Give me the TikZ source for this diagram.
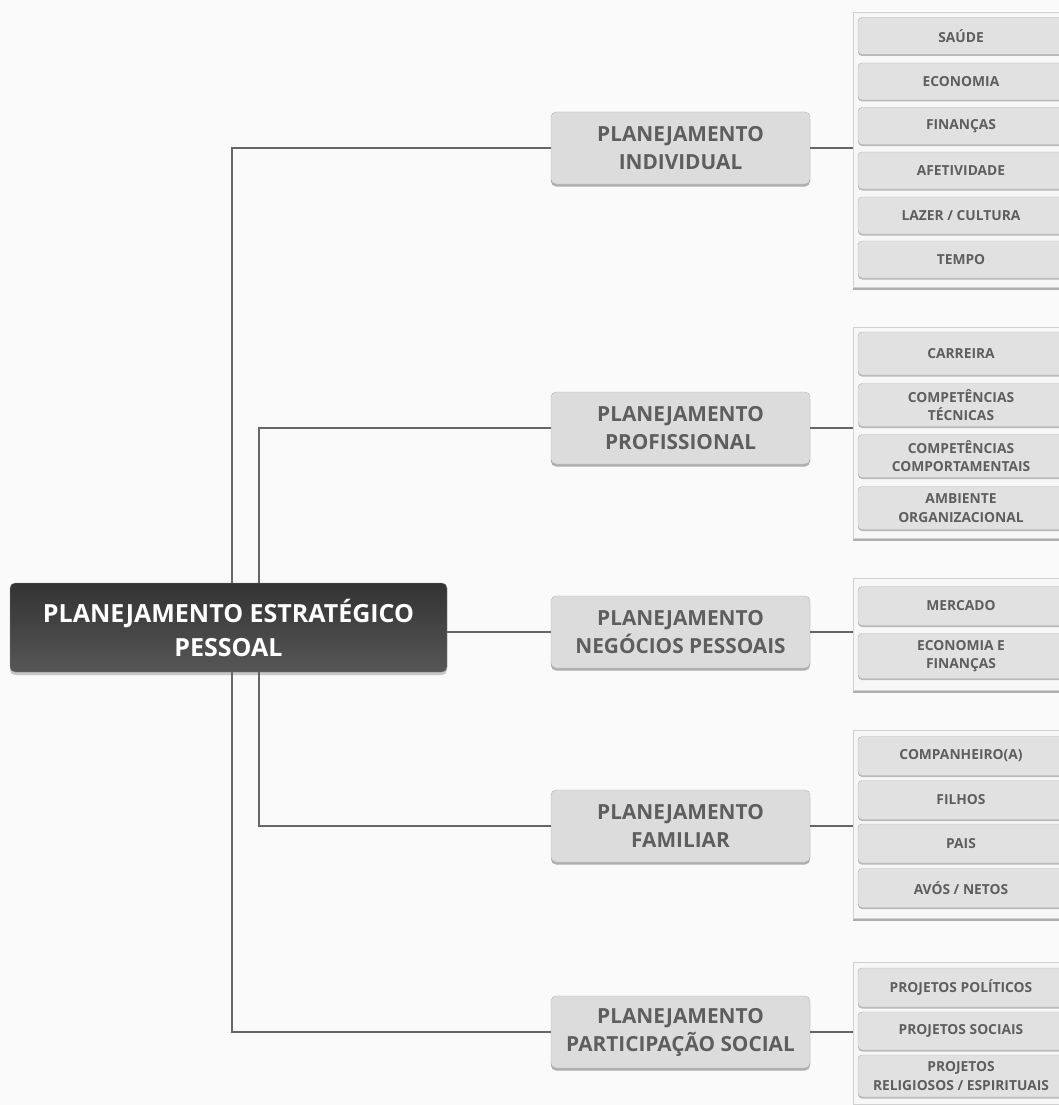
\documentclass[tikz,border=0pt]{standalone}
\usepackage{fontspec}
\setmainfont{Open Sans}
\usetikzlibrary{shadows}
\definecolor{linegray}{HTML}{666666}
\definecolor{boxfill}{HTML}{DCDCDC}
\definecolor{boxedge}{HTML}{B4B4B4}
\definecolor{txtgray}{HTML}{5E5E5E}
\definecolor{itemfill}{HTML}{E1E1E1}
\definecolor{paperbg}{HTML}{FAFAFA}
\tikzset{
  conn/.style={draw=linegray, line width=2.8pt},
  mainbox/.style={rounded corners=5pt, top color=black!80, bottom color=black!66, draw=black!45,
    text=white, align=center, font=\fontsize{25}{34}\selectfont\bfseries,
    minimum width=437pt, minimum height=89pt,
    drop shadow={shadow xshift=0pt, shadow yshift=-3pt, fill=black, opacity=.2}},
  topic/.style={rounded corners=5pt, fill=boxfill, draw=boxedge, text=txtgray, align=center,
    font=\fontsize{20.8}{28}\selectfont\bfseries, minimum width=259pt, minimum height=72pt,
    drop shadow={shadow xshift=0pt, shadow yshift=-2.5pt, fill=black, opacity=.3}},
  panel/.style={fill=black!3, draw=black!18, minimum width=215pt,
    drop shadow={shadow xshift=0pt, shadow yshift=-3pt, fill=black, opacity=.3}},
  item/.style={rounded corners=4pt, fill=itemfill, draw=black!30, text=txtgray, align=center,
    font=\fontsize{13.8}{18.5}\selectfont\bfseries, minimum width=206pt,
    drop shadow={shadow xshift=0pt, shadow yshift=-1.5pt, fill=black, opacity=.25}}
}
\begin{document}
\begin{tikzpicture}[x=1pt, y=-1pt]
  \useasboundingbox (0,0) rectangle (1059,1105);
  \clip (0,0) rectangle (1059,1105);
  \fill[paperbg] (0,0) rectangle (1059,1105);

  % central node and the five areas
  \node[mainbox] (pep) at (228.5,627.5) {PLANEJAMENTO ESTRATÉGICO\\PESSOAL};
  \node[topic] (indiv) at (680.5,148) {PLANEJAMENTO\\INDIVIDUAL};
  \node[topic] (prof) at (680.5,428) {PLANEJAMENTO\\PROFISSIONAL};
  \node[topic] (negoc) at (680.5,632) {PLANEJAMENTO\\NEGÓCIOS PESSOAIS};
  \node[topic] (famil) at (680.5,826) {PLANEJAMENTO\\FAMILIAR};
  \node[topic] (social) at (680.5,1032) {PLANEJAMENTO\\PARTICIPAÇÃO SOCIAL};

  % panels holding the topics
  \node[panel, minimum height=275pt] (pindiv) at (960.5,149.5) {};
  \node[panel, minimum height=211pt] (pprof) at (960.5,432.5) {};
  \node[panel, minimum height=112pt] (pnegoc) at (960.5,634) {};
  \node[panel, minimum height=188pt] (pfamil) at (960.5,824) {};
  \node[panel, minimum height=142pt] (psocial) at (960.5,1033) {};

  \node[item, minimum height=37pt] (saude) at (961,36) {SAÚDE};
  \node[item, minimum height=37pt] (econ) at (961,81.5) {ECONOMIA};
  \node[item, minimum height=37pt] (financ) at (961,126) {FINANÇAS};
  \node[item, minimum height=37pt] (afet) at (961,170.5) {AFETIVIDADE};
  \node[item, minimum height=37pt] (lazer) at (961,215.5) {LAZER / CULTURA};
  \node[item, minimum height=37pt] (tempo) at (961,259.5) {TEMPO};

  \node[item, minimum height=43pt] (carreira) at (961,353.5) {CARREIRA};
  \node[item, minimum height=43pt] (comptec) at (961,405) {COMPETÊNCIAS\\TÉCNICAS};
  \node[item, minimum height=43pt] (compcomp) at (961,456) {COMPETÊNCIAS\\COMPORTAMENTAIS};
  \node[item, minimum height=43pt] (ambiente) at (961,508) {AMBIENTE\\ORGANIZACIONAL};

  \node[item, minimum height=39pt] (mercado) at (961,606) {MERCADO};
  \node[item, minimum height=45pt] (econfin) at (961,656) {ECONOMIA E\\FINANÇAS};

  \node[item, minimum height=39pt] (compan) at (961,756) {COMPANHEIRO(A)};
  \node[item, minimum height=39pt] (filhos) at (961,800) {FILHOS};
  \node[item, minimum height=39pt] (pais) at (961,843.5) {PAIS};
  \node[item, minimum height=39pt] (avos) at (961,888) {AVÓS / NETOS};

  \node[item, minimum height=39pt] (projpol) at (961,987.5) {PROJETOS POLÍTICOS};
  \node[item, minimum height=38pt] (projsoc) at (961,1031) {PROJETOS SOCIAIS};
  \node[item, minimum height=42pt] (projrel) at (961,1076) {PROJETOS\\RELIGIOSOS / ESPIRITUAIS};

  % connectors
  \coordinate (outer) at (232,0); \coordinate (inner) at (259,0);
  \draw[conn] (outer |- pep.north) |- (indiv.west);
  \draw[conn] (inner |- pep.north) |- (prof.west);
  \draw[conn] (negoc.west -| pep.east) -- (negoc.west);
  \draw[conn] (inner |- pep.south) |- (famil.west);
  \draw[conn] (outer |- pep.south) |- (social.west);
  \draw[conn] (indiv.east) -- (indiv.east -| pindiv.west);
  \draw[conn] (prof.east) -- (prof.east -| pprof.west);
  \draw[conn] (negoc.east) -- (negoc.east -| pnegoc.west);
  \draw[conn] (famil.east) -- (famil.east -| pfamil.west);
  \draw[conn] (social.east) -- (social.east -| psocial.west);
\end{tikzpicture}
\end{document}
